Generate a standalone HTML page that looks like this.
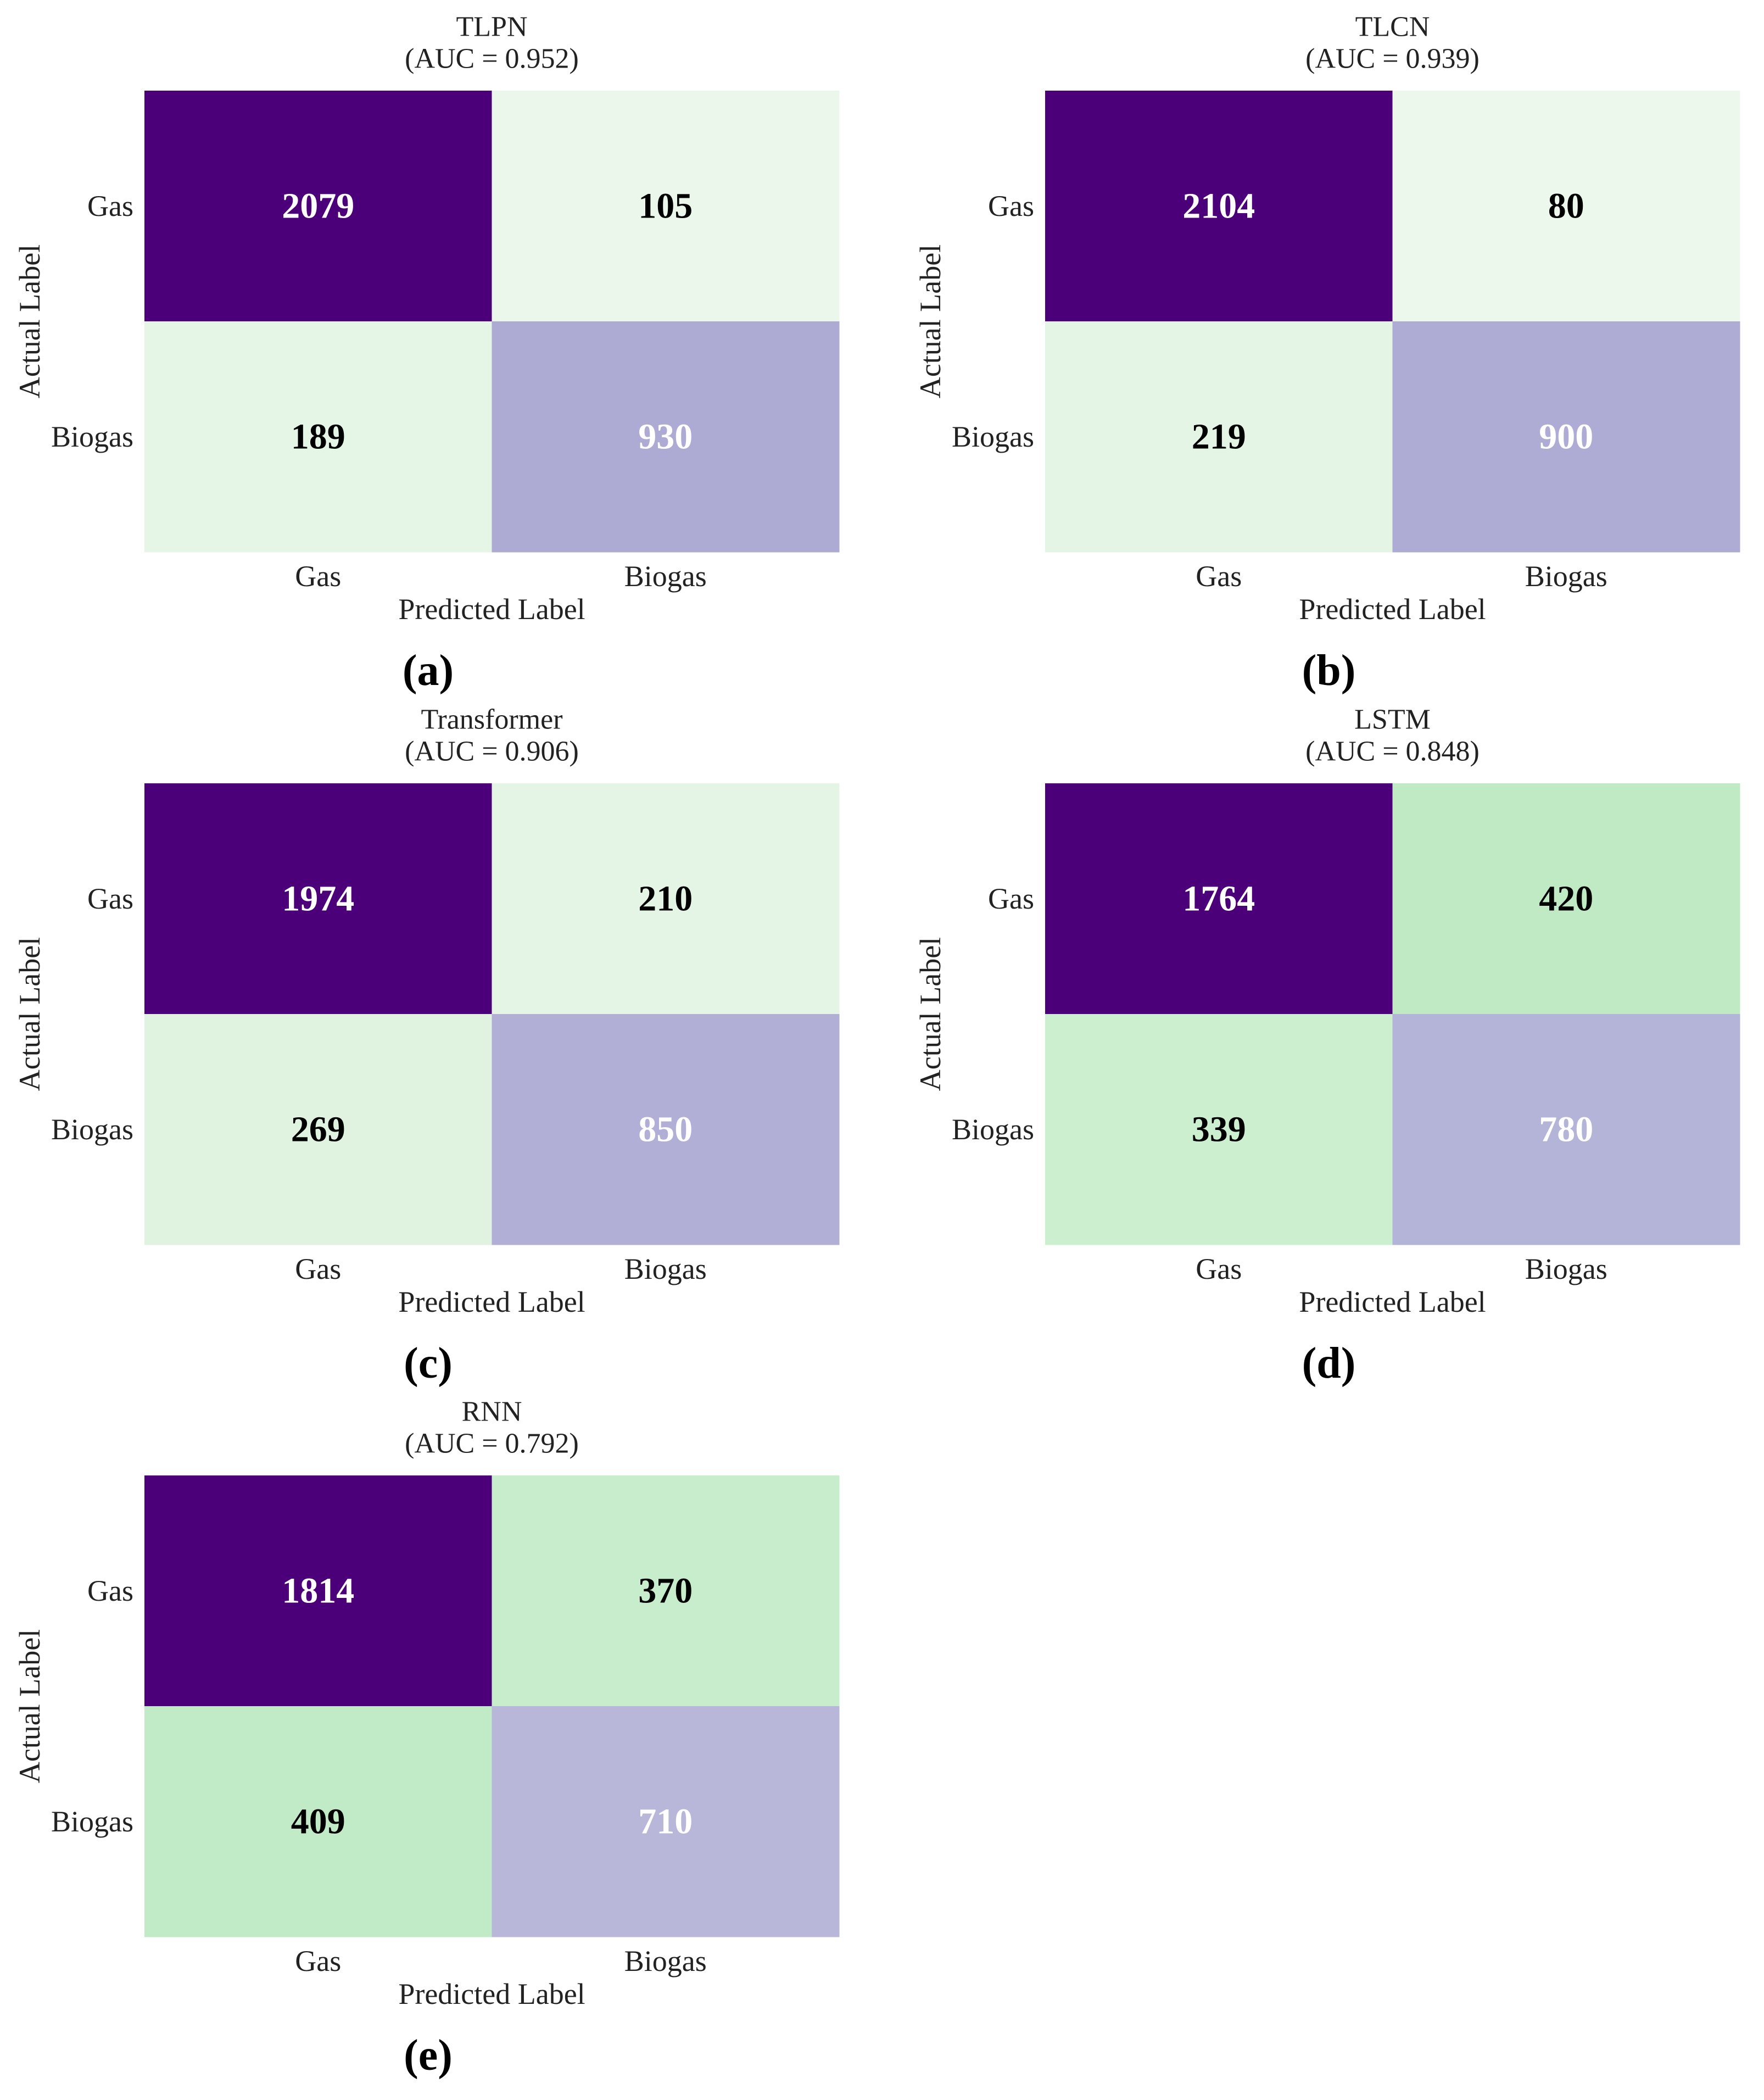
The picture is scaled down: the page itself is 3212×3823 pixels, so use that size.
<!DOCTYPE html>
<html><head><meta charset="utf-8">
<style>
html,body{margin:0;padding:0;background:#fff;}
svg{display:block;font-family:"Liberation Serif",serif;}
</style></head>
<body>
<svg id="fig" width="3212" height="3823" viewBox="0 0 3212 3823" xmlns="http://www.w3.org/2000/svg"></svg>
<script>
const modelNames = ["TLPN","TLCN","Transformer","LSTM","RNN"];
const aucValues = ["0.952","0.939","0.906","0.848","0.792"];
const panelLetters = ["(a)","(b)","(c)","(d)","(e)"];
const classLabels = ["Gas","Biogas"];
const tlpnMatrix = [[2079,105],[189,930]];
const tlcnMatrix = [[2104,80],[219,900]];
const transformerMatrix = [[1974,210],[269,850]];
const lstmMatrix = [[1764,420],[339,780]];
const rnnMatrix = [[1814,370],[409,710]];
const matrices = [tlpnMatrix,tlcnMatrix,transformerMatrix,lstmMatrix,rnnMatrix];

const NS="http://www.w3.org/2000/svg";
const svg=document.getElementById('fig');
const stops=[[80,[237,248,237]],[260,[225,244,226]],[340,[204,239,208]],[450,[186,232,192]],[700,[184,184,218]],[950,[172,169,211]],[1700,[75,0,121]]];
function colorFor(v){
  if(v<=stops[0][0]) return 'rgb('+stops[0][1].join(',')+')';
  for(let i=1;i<stops.length;i++){
    if(v<=stops[i][0]){
      const a=stops[i-1],b=stops[i],t=(v-a[0])/(b[0]-a[0]);
      return 'rgb('+a[1].map((c,k)=>Math.round(c+(b[1][k]-c)*t)).join(',')+')';
    }
  }
  return 'rgb('+stops[stops.length-1][1].join(',')+')';
}
function el(tag,attrs,parent){const e=document.createElementNS(NS,tag);for(const k in attrs)e.setAttribute(k,attrs[k]);(parent||svg).appendChild(e);return e;}
function txt(parent,x,y,s,size,opts){const t=el('text',Object.assign({x:x,y:y,'font-size':size,'text-anchor':'middle','dominant-baseline':'central',fill:'#222'},opts||{}),parent);t.textContent=s;return t;}

const origins=[[263,165],[1903,165],[263,1426],[1903,1426],[263,2686]];
const W=1265,H=840;
matrices.forEach((m,p)=>{
  const [x0,y0]=origins[p];
  const g=el('g',{});
  
  
  const xs=c=>x0+c*W/2, ys=r=>y0+r*H/2;
  for(let r=0;r<2;r++)for(let c=0;c<2;c++){
    const v=m[r][c];
    const rect=el('rect',{x:xs(c),y:ys(r),width:W/2+0.5,height:H/2+0.5,fill:colorFor(v)},g);
    
    
    const t=txt(g,xs(c)+W/4,ys(r)+H/4,String(v),66,{'font-weight':'bold',fill:v>600?'#fff':'#000'});
    
    
  }
  const cx=x0+W/2;
  const t1=txt(g,cx,y0-116,modelNames[p],52);
  
  
  const t2=txt(g,cx,y0-58,'(AUC = '+aucValues[p]+')',52);
  
  
  classLabels.forEach((l,i)=>{
    const a=txt(g,x0-20,ys(i)+H/4,l,54,{'text-anchor':'end'});
    
    
    const b=txt(g,xs(i)+W/4,y0+H+44,l,54);
    
    
  });
  const xl=txt(g,cx,y0+H+104,'Predicted Label',54);
  
  
  const yl=txt(g,x0-209,y0+H/2,'Actual Label',54,{transform:'rotate(-90 '+(x0-209)+' '+(y0+H/2)+')'});
  
  
  const pl=txt(g,cx-116,y0+H+216,panelLetters[p],80,{fill:'#000','font-weight':'bold'});
  
  
});
</script>
</body></html>
